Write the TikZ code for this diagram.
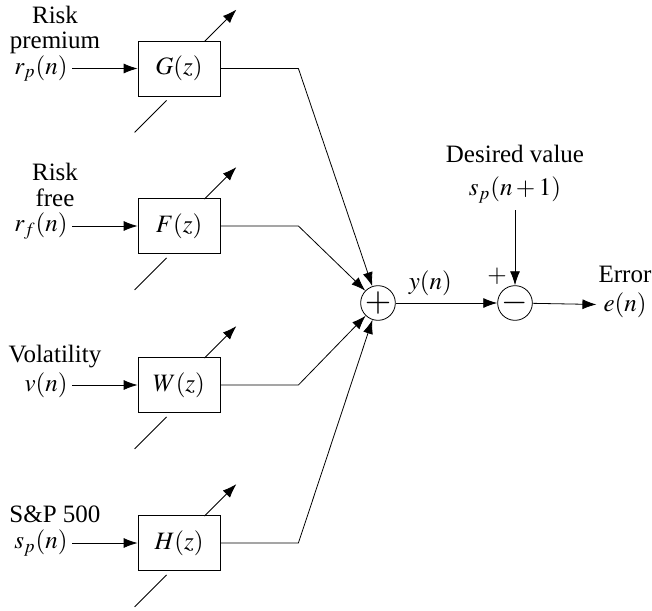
\documentclass[tikz,border=0pt]{standalone}
\usepackage{mathptmx}
\usepackage{fontspec}
\setmainfont{Liberation Serif}
\usetikzlibrary{positioning, arrows.meta}
\tikzset{>={Latex[length=7pt,width=5pt]},
line width=1.1pt,
filt/.style={draw, fill=white, minimum width=41pt, minimum height=27.5pt, inner sep=0pt},
junc/.style={draw, circle, minimum size=16pt, inner sep=0pt, font=\fontsize{17}{17}\selectfont},
sig/.style={anchor=east, inner sep=2pt},
lbl/.style={anchor=base, align=center, inner sep=0pt}}

\begin{document}
\begin{tikzpicture}[x=0.5pt,y=-0.5pt,font=\fontsize{12.5}{13}\selectfont]
\useasboundingbox (0,0) rectangle (652,610);
% filters
\node[filt] (g) at (179,68.5) {$G(z)$};
\node[filt] (f) at (179,226) {$F(z)$};
\node[filt] (w) at (179,385) {$W(z)$};
\node[filt] (h) at (179,543) {$H(z)$};
% inputs
\node[sig] (rp) at (72,68.5) {$r_p(n)$};
\node[sig] (rf) at (72,226) {$r_f(n)$};
\node[sig] (v) at (72,385) {$v(n)$};
\node[sig] (sp) at (72,543) {$s_p(n)$};
\node[lbl] (rplbl) at (55,49) {Risk\\premium};
\node[lbl] (rflbl) at (55,206) {Risk\\free};
\node[lbl] (vlbl) at (55,362) {Volatility};
\node[lbl] (splbl) at (55,522) {S\&P 500};
% junctions
\node[junc] (sum) at (378,303) {$+$};
\node[junc] (diff) at (515,303) {$-$};
\node (sd) at (515,190) {$s_p(n+1)$};
\node[lbl] (sdlbl) at (515,162) {Desired value};
\node[inner sep=0.5pt] (plus) at (497,276) {$+$};
\node (en) at (625,305) {$e(n)$};
\node[lbl] (enlbl) at (625,282) {Error};
\draw[->]
(rp) edge (g) (rf) edge (f) (v) edge (w) (sp) edge (h);
\draw[->] (g.east) -- ++(78,0) -- (sum);
\draw[->] (f.east) -- ++(78,0) -- (sum);
\draw[->] (w.east) -- ++(78,0) -- (sum);
\draw[->] (h.east) -- ++(78,0) -- (sum);
\draw[->] (sum) -- node[above,pos=0.34] {$y(n)$} (diff);
\draw[->] (sd) -- (diff);
\draw[->] (diff) -- (en);
% adaptation arrows
\foreach \b in {g,f,w,h} {
\draw (\b.south west) ++(-3,36) -- ++(32,-32);
\draw[->] (\b.north east) ++(-16,1) -- ++(32,-32);
}
\end{tikzpicture}
\end{document}
